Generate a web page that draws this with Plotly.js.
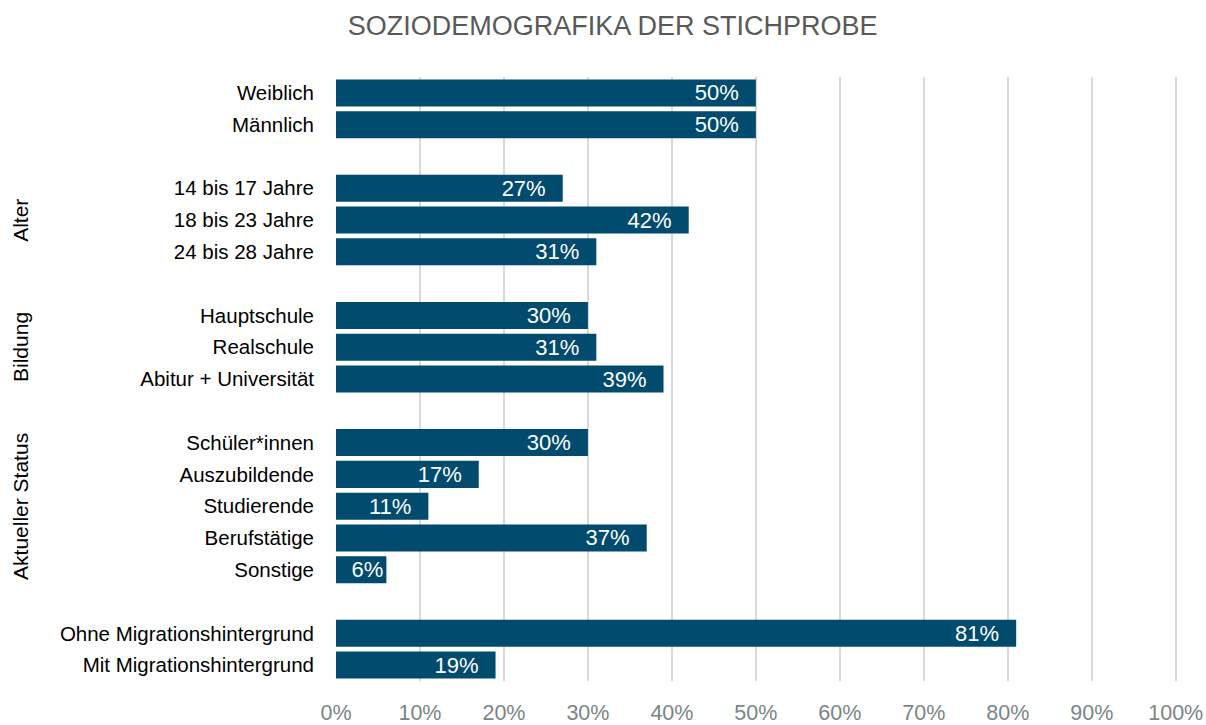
<!DOCTYPE html>
<html>
<head>
<meta charset="utf-8">
<script src="https://cdn.plot.ly/plotly-3.0.1.min.js"></script>
<style>html,body{margin:0;padding:0;background:#fff;}#chart{width:1206px;height:725px;}</style>
</head>
<body>
<div id="chart"></div>
<script>
const categories = ["Weiblich","Männlich","14 bis 17 Jahre","18 bis 23 Jahre","24 bis 28 Jahre","Hauptschule","Realschule","Abitur + Universität","Schüler*innen","Auszubildende","Studierende","Berufstätige","Sonstige","Ohne Migrationshintergrund","Mit Migrationshintergrund"];
const values = [50,50,27,42,31,30,31,39,30,17,11,37,6,81,19];
const groupOf = [0,0,1,1,1,2,2,2,3,3,3,3,3,4,4];
const groupNames = ["","Alter","Bildung","Aktueller Status",""];
const xTickVals = [0,10,20,30,40,50,60,70,80,90,100];
const xTickText = ["0%","10%","20%","30%","40%","50%","60%","70%","80%","90%","100%"];

const FONT = '"Liberation Sans", Arial, sans-serif';

// compute slot positions with one empty slot between groups
const pos = [];
let slot = 0;
for (let i = 0; i < categories.length; i++) {
  if (i > 0 && groupOf[i] !== groupOf[i-1]) slot += 1;
  pos.push(slot);
  slot += 1;
}
const maxSlot = slot - 1;

// inside-end labels with extra right padding when the bar is long enough
const labels = values.map(v => v + "%" + (v >= 10 ? "\u00a0\u00a0\u200a" : ""));

const trace = {
  type: 'bar',
  orientation: 'h',
  x: values,
  y: pos,
  width: 0.85,
  marker: {color: '#004b6e'},
  text: labels,
  textposition: 'inside',
  insidetextanchor: 'end',
  constraintext: 'none',
  textfont: {family: FONT, size: 22, color: '#ffffff'},
  hoverinfo: 'skip'
};

// group label annotations
const annotations = [];
groupNames.forEach((g, gi) => {
  if (!g) return;
  const ps = pos.filter((p, i) => groupOf[i] === gi);
  const mid = (Math.min(...ps) + Math.max(...ps)) / 2;
  annotations.push({
    text: g, xref: 'paper', yref: 'y', x: -0.376, y: mid,
    xanchor: 'center', yanchor: 'middle', textangle: -90, showarrow: false,
    font: {family: FONT, size: 21, color: '#000000'}
  });
});

const layout = {
  width: 1206, height: 725,
  margin: {l: 336, r: 29, t: 77, b: 44},
  paper_bgcolor: '#ffffff', plot_bgcolor: '#ffffff',
  title: {text: 'SOZIODEMOGRAFIKA DER STICHPROBE', x: 0.508, xanchor: 'center', y: 0.965, yanchor: 'middle',
          font: {family: FONT, size: 27, color: '#595959'}},
  xaxis: {
    range: [0, 100.15], tickvals: xTickVals, ticktext: xTickText,
    showgrid: true, gridcolor: '#d9d9d9', gridwidth: 2, zeroline: false,
    showline: false, ticks: '', ticklabelstandoff: 16, ticklabeloverflow: 'allow',
    tickfont: {family: FONT, size: 21.5, color: '#7a8585'}, fixedrange: true
  },
  yaxis: {
    range: [maxSlot + 0.5, -0.5], tickvals: pos, ticktext: categories,
    showgrid: false, zeroline: false, showline: false, ticks: '',
    ticklabelstandoff: 21,
    tickfont: {family: FONT, size: 20.5, color: '#000000'}, fixedrange: true
  },
  annotations: annotations,
  showlegend: false
};

Plotly.newPlot('chart', [trace], layout, {displayModeBar: false, staticPlot: true});
</script>
</body>
</html>
